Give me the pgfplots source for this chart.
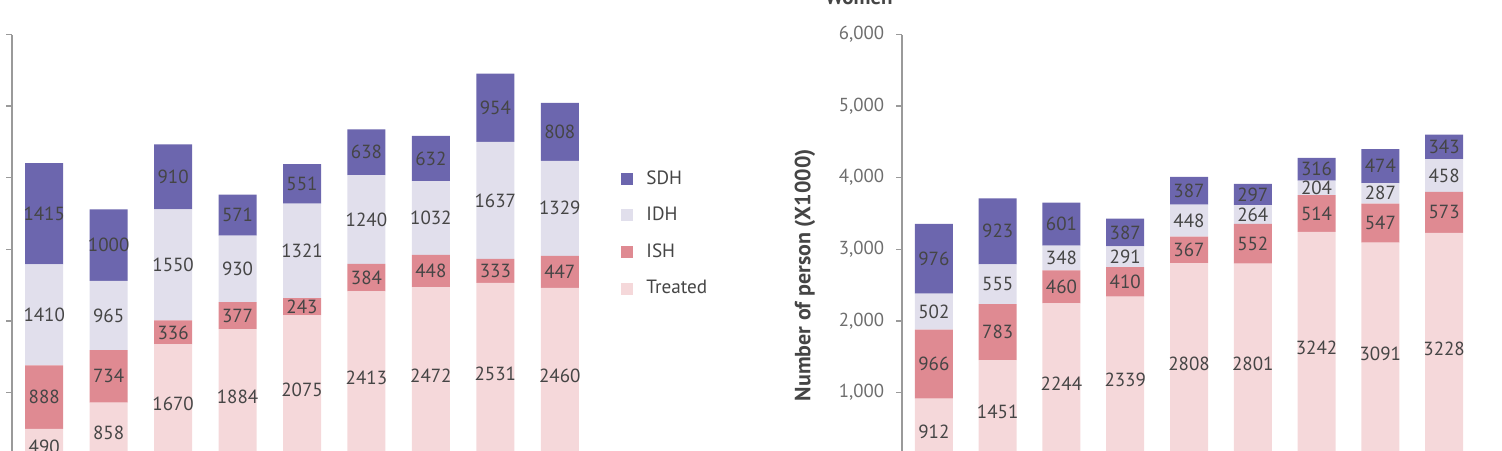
\documentclass[border=0pt]{standalone}
\usepackage{fontspec}
\setmainfont{PT Sans}
\usepackage{pgfplots}
\usepackage{pgfplotstable}
\pgfplotsset{compat=1.18}
\definecolor{cSDH}{HTML}{6C66AE}
\definecolor{cIDH}{HTML}{E1DFEC}
\definecolor{cISH}{HTML}{DF8A92}
\definecolor{cTR}{HTML}{F5D8DA}
\definecolor{txt}{HTML}{454545}
\definecolor{axc}{HTML}{9A9A9A}
\definecolor{tkl}{HTML}{6E6E6E}

\pgfplotstableread{
x Treated ISH IDH SDH
0 490 888 1410 1415
1 858 734 965 1000
2 1670 336 1550 910
3 1884 377 930 571
4 2075 243 1321 551
5 2413 384 1240 638
6 2472 448 1032 632
7 2531 333 1637 954
8 2460 447 1329 808
}\men
\pgfplotstableread{
x Treated ISH IDH SDH
0 912 966 502 976
1 1451 783 555 923
2 2244 460 348 601
3 2339 410 291 387
4 2808 367 448 387
5 2801 552 264 297
6 3242 514 204 316
7 3091 547 287 474
8 3228 573 458 343
}\women

\pgfplotsset{
  stk/.style={
    ybar stacked, bar width=19pt, scale only axis, height=214.75pt,
    ymin=0, ymax=6000, xmin=-0.5, xmax=8.5,
    ytick={0,1000,...,6000}, xtick=\empty,
    axis y line*=left, axis x line*=bottom,
    axis line style={draw=axc, line width=0.75pt},
    ytick style={draw=axc, line width=0.75pt},
    tick align=outside, major tick length=3pt,
    yticklabel style={font=\fontsize{9.4}{11}\selectfont, text=tkl, xshift=-2.4pt},
    /pgf/number format/assume math mode=true,
    scaled y ticks=false,
    point meta=explicit symbolic,
    nodes near coords={\pgfplotspointmeta},
    every node near coord/.append style={anchor=center, font=\fontsize{9.5}{10}\selectfont, text=txt},
    legend image code/.code={\fill[#1] (0pt,-3pt) rectangle (6pt,3pt); \path (10.5pt,0pt);},
  },
}

\begin{document}
\begin{tikzpicture}
\begin{axis}[stk, at={(6pt,-7pt)}, anchor=south west, width=290pt,
  reverse legend,
  legend style={at={(axis description cs:1.0397,0.703)}, anchor=north west, draw=none, fill=none,
    font=\fontsize{9.6}{11}\selectfont, text=txt, row sep=6pt},
  legend cell align=left]
\addplot[fill=cTR, draw=none] table[x=x,y=Treated,meta=Treated]{\men};
\addplot[fill=cISH, draw=none] table[x=x,y=ISH,meta=ISH]{\men};
\addplot[fill=cIDH, draw=none] table[x=x,y=IDH,meta=IDH]{\men};
\addplot[fill=cSDH, draw=none] table[x=x,y=SDH,meta=SDH]{\men};
\legend{Treated,ISH,IDH,SDH}
\end{axis}
\begin{axis}[stk, at={(451pt,-7pt)}, anchor=south west, width=287pt,
  ylabel={Number of person (X1000)},
  ylabel style={font=\bfseries\fontsize{11}{13}\selectfont, text=txt, at={(axis description cs:-0.169,0.44)}, anchor=center}]
\addplot[fill=cTR, draw=none] table[x=x,y=Treated,meta=Treated]{\women};
\addplot[fill=cISH, draw=none] table[x=x,y=ISH,meta=ISH]{\women};
\addplot[fill=cIDH, draw=none] table[x=x,y=IDH,meta=IDH]{\women};
\addplot[fill=cSDH, draw=none] table[x=x,y=SDH,meta=SDH]{\women};
\end{axis}
\node[font=\bfseries\fontsize{10.5}{12}\selectfont, text=txt, anchor=base] at (429.5pt,222.5pt) {Women};
\pgfresetboundingbox
\useasboundingbox (0,0) rectangle (751pt,225pt);
\end{tikzpicture}
\end{document}
